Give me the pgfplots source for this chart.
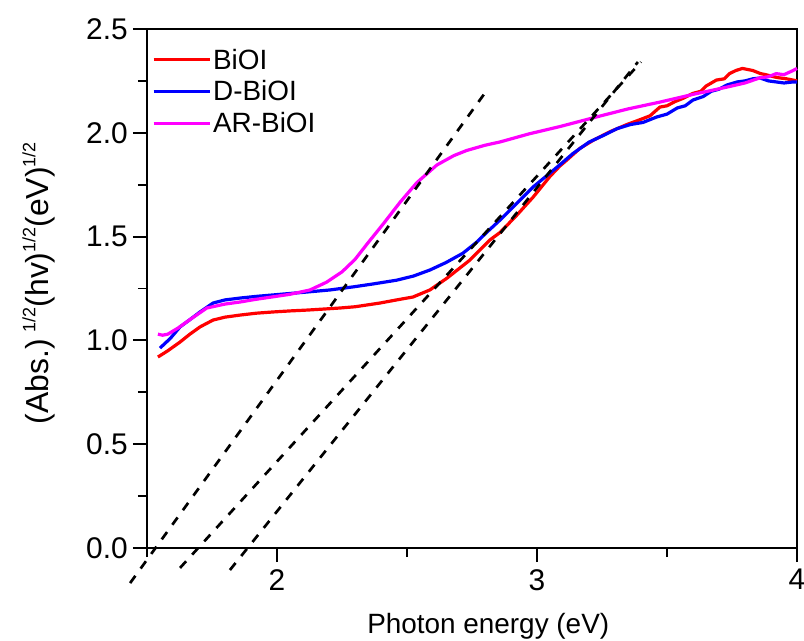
\documentclass[border=0pt]{standalone}
\usepackage{pgfplots}
\pgfplotsset{compat=1.18}
\usepackage{fontspec}
\setmainfont{Liberation Sans}
\definecolor{cred}{RGB}{255,0,0}
\definecolor{cblue}{RGB}{0,0,255}
\definecolor{cmag}{RGB}{255,0,255}
\newcommand{\sq}{\raisebox{0.42em}{\fontsize{18}{18}\selectfont 1/2}}
\begin{document}
\begin{tikzpicture}
\begin{axis}[
  name=ax,
  line width=1.9bp,
  width=650bp, height=519bp, scale only axis,
  xmin=1.5, xmax=4, ymin=0, ymax=2.5,
  clip=false,
  axis line style={line width=1.9bp},
  every tick/.style={line width=1.9bp, black},
  tick align=outside, tick pos=left,
  major tick length=14bp, minor tick length=9bp,
  xtick={2,3,4}, minor xtick={1.5,2.5,3.5},
  ytick={0,0.5,1,1.5,2,2.5}, minor ytick={0.25,0.75,1.25,1.75,2.25},
  /pgf/number format/assume math mode=true,
  tick label style={font=\fontsize{30}{30}\selectfont},
  xticklabel style={yshift=-3bp, /pgf/number format/.cd, fixed, precision=0},
  yticklabel style={xshift=-1bp, /pgf/number format/.cd, fixed, fixed zerofill, precision=1},
  xlabel={Photon energy (eV)},
  ylabel={(Abs.)\hspace{7bp}\sq(hv)\sq(eV)\sq},
  xlabel style={font=\fontsize{28}{28}\selectfont, at={(rel axis cs:0.525,0)}, anchor=base, yshift=-85bp},
  ylabel style={font=\fontsize{32}{32}\selectfont, at={(rel axis cs:0,0.51)}, anchor=center, yshift=108bp},
  legend style={at={(rel axis cs:0,1)}, anchor=north west, xshift=4bp, yshift=-17bp,
    draw=none, fill=none, font=\fontsize{28}{28}\selectfont, row sep=6bp,
    inner sep=0pt},
  legend cell align=left,
  legend image code/.code={\draw[#1] (0bp,0bp) -- (56bp,0bp);},
]
\addplot[cred, line width=3.2bp] coordinates {
(1.542,0.92)(1.58,0.95)(1.627,0.992)(1.665,1.03)(1.704,1.065)(1.754,1.098)(1.80,1.112)
(1.858,1.122)(1.92,1.131)(1.985,1.137)(2.05,1.142)(2.115,1.146)(2.18,1.151)(2.242,1.156)
(2.30,1.162)(2.396,1.18)(2.46,1.195)(2.523,1.209)(2.588,1.243)(2.654,1.30)(2.742,1.387)
(2.819,1.484)(2.858,1.52)(2.92,1.60)(2.985,1.69)(3.05,1.79)(3.088,1.84)(3.115,1.869)
(3.165,1.925)(3.215,1.963)(3.28,2.005)(3.346,2.04)(3.40,2.065)(3.435,2.082)(3.46,2.11)
(3.473,2.124)(3.50,2.13)(3.53,2.15)(3.56,2.165)(3.6,2.19)(3.63,2.20)(3.65,2.225)
(3.69,2.254)(3.72,2.26)(3.74,2.285)(3.765,2.30)(3.79,2.31)(3.81,2.305)(3.83,2.30)
(3.86,2.285)(3.88,2.28)(3.91,2.27)(3.93,2.265)(3.96,2.26)(3.985,2.254)(4.0,2.25)
};
\addlegendentry{BiOI}
\addplot[cblue, line width=3.2bp] coordinates {
(1.55,0.963)(1.59,1.01)(1.627,1.065)(1.665,1.10)(1.704,1.137)(1.754,1.18)(1.80,1.195)
(1.858,1.204)(1.92,1.212)(1.985,1.219)(2.05,1.226)(2.115,1.233)(2.204,1.243)(2.30,1.259)
(2.37,1.272)(2.46,1.29)(2.525,1.31)(2.588,1.339)(2.65,1.375)(2.715,1.42)(2.765,1.47)
(2.808,1.522)(2.858,1.58)(2.935,1.676)(2.985,1.739)(3.05,1.806)(3.088,1.846)(3.138,1.90)
(3.20,1.955)(3.26,1.99)(3.308,2.02)(3.36,2.04)(3.408,2.05)(3.46,2.076)(3.50,2.09)
(3.54,2.12)(3.57,2.13)(3.6,2.158)(3.64,2.175)(3.67,2.20)(3.70,2.21)(3.73,2.23)(3.77,2.245)
(3.80,2.25)(3.83,2.26)(3.858,2.264)(3.89,2.25)(3.92,2.245)(3.95,2.24)(3.985,2.245)(4.0,2.245)
};
\addlegendentry{D-BiOI}
\addplot[cmag, line width=3.2bp] coordinates {
(1.542,1.03)(1.56,1.025)(1.58,1.03)(1.62,1.06)(1.665,1.10)(1.73,1.156)(1.80,1.175)
(1.858,1.185)(1.92,1.198)(1.985,1.21)(2.05,1.222)(2.127,1.243)(2.19,1.28)(2.25,1.33)
(2.30,1.39)(2.35,1.47)(2.408,1.56)(2.473,1.665)(2.538,1.76)(2.615,1.845)(2.68,1.89)
(2.73,1.915)(2.80,1.94)(2.858,1.956)(2.97,1.995)(3.088,2.03)(3.24,2.08)(3.35,2.115)
(3.473,2.148)(3.6,2.185)(3.73,2.22)(3.80,2.24)(3.858,2.265)(3.89,2.27)(3.92,2.285)
(3.95,2.28)(3.985,2.30)(4.0,2.31)
};
\addlegendentry{AR-BiOI}
\addplot[black, line width=2.7bp, dash pattern=on 9bp off 9bp] coordinates {(1.435,-0.169) (2.808,2.206)};
\addplot[black, line width=2.7bp, dash pattern=on 9bp off 9bp] coordinates {(1.627,-0.096) (3.40,2.341)};
\addplot[black, line width=2.7bp, dash pattern=on 9bp off 9bp] coordinates {(1.819,-0.106) (3.388,2.341)};
\end{axis}
\pgfresetboundingbox
\path ([xshift=-147bp,yshift=-93bp]ax.south west) rectangle ([xshift=7bp,yshift=29bp]ax.north east);
\end{tikzpicture}
\end{document}
